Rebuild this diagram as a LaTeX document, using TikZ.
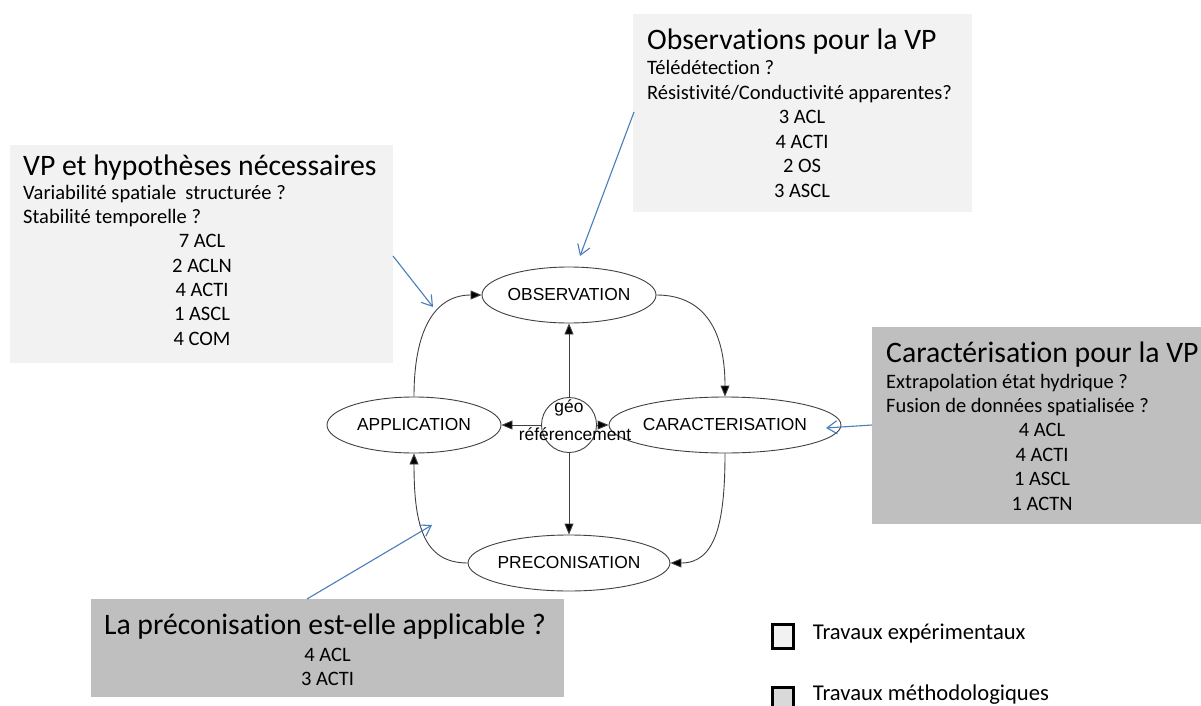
\documentclass[tikz,border=0pt]{standalone}
\usepackage{fontspec}
\setmainfont{Carlito}[Ligatures=NoCommon]
\newfontfamily\arialf{Liberation Sans}
\usetikzlibrary{arrows.meta,shapes.geometric}
\definecolor{lightbox}{HTML}{F2F2F2}
\definecolor{darkbox}{HTML}{BFBFBF}
\definecolor{legdark}{HTML}{D9D9D9}
\definecolor{calloutblue}{HTML}{4A7EBB}
\definecolor{flowgray}{HTML}{404040}
\tikzset{
  titletext/.style={font=\fontsize{29.7}{34}\selectfont, inner sep=0, anchor=base west},
  smalltext/.style={font=\fontsize{20.5}{24}\selectfont, inner sep=0, anchor=base west},
  counttext/.style={font=\fontsize{20.5}{24}\selectfont, inner sep=0, anchor=base},
  legendtext/.style={font=\fontsize{22.6}{26}\selectfont, inner sep=0, anchor=base west},
  stage/.style={ellipse, draw=flowgray, line width=0.9pt, minimum width=174pt, minimum height=56pt, inner sep=0, font=\arialf\fontsize{17.4}{20}\selectfont},
  hub/.style={circle, draw=flowgray, line width=0.9pt, minimum size=55pt, inner sep=0},
  hubtext/.style={font=\arialf\fontsize{17.4}{20}\selectfont, inner sep=0, anchor=base},
  flow/.style={draw=flowgray, line width=0.9pt, -{Triangle[length=11pt,width=9pt,fill=black]}},
  callout/.style={draw=calloutblue, line width=1.1pt, -{Straight Barb[length=10pt,width=13pt]}},
  panel/.style={inner sep=0, anchor=north west},
  legendbox/.style={draw=black, line width=3pt, minimum width=21pt, minimum height=24pt, inner sep=0},
}
\begin{document}
\begin{tikzpicture}[x=1pt,y=-1pt]
\useasboundingbox (0,0) rectangle (1201,706);

% panels
\node[panel, fill=lightbox, minimum width=383pt, minimum height=218pt] (vpbox) at (10,145) {};
\node[panel, fill=lightbox, minimum width=339pt, minimum height=198pt] (obsbox) at (633,14) {};
\node[panel, fill=darkbox, minimum width=329pt, minimum height=197pt] (carbox) at (872,327) {};
\node[panel, fill=darkbox, minimum width=473pt, minimum height=98pt] (prebox) at (91,599) {};

% VP panel text
\node[titletext] (vpt) at (23,175) {VP et hypothèses nécessaires};
\node[smalltext] (vp1) at (23,199.3) {Variabilité spatiale~ structurée ?};
\node[smalltext] (vp2) at (23,223.5) {Stabilité temporelle ?};
\node[counttext] (vp3) at (202,247.8) {7 ACL};
\node[counttext] (vp4) at (202,272.1) {2 ACLN};
\node[counttext] (vp5) at (202,296.4) {4 ACTI};
\node[counttext] (vp6) at (202,320.7) {1 ASCL};
\node[counttext] (vp7) at (202,345) {4 COM};

% Observation panel text
\node[titletext] (obt) at (647,49.3) {Observations pour la VP};
\node[smalltext] (ob1) at (647,75) {Télédétection ?};
\node[smalltext] (ob2) at (647,99.4) {Résistivité/Conductivité apparentes?};
\node[counttext] (ob3) at (802,123.8) {3 ACL};
\node[counttext] (ob4) at (802,148.2) {4 ACTI};
\node[counttext] (ob5) at (802,172.6) {2 OS};
\node[counttext] (ob6) at (802,197) {3 ASCL};

% Caracterisation panel text
\node[titletext] (cat) at (886,362.3) {Caractérisation pour la VP};
\node[smalltext] (ca1) at (886,388) {Extrapolation état hydrique ?};
\node[smalltext] (ca2) at (886,412.4) {Fusion de données spatialisée ?};
\node[counttext] (ca3) at (1042,436.8) {4 ACL};
\node[counttext] (ca4) at (1042,461.2) {4 ACTI};
\node[counttext] (ca5) at (1042,485.6) {1 ASCL};
\node[counttext] (ca6) at (1042,510) {1 ACTN};

% Preconisation panel text
\node[titletext, anchor=base] (prt) at (325,634) {La préconisation est-elle applicable ?};
\node[counttext] (pr1) at (327.5,661.7) {4 ACL};
\node[counttext] (pr2) at (327.5,685.5) {3 ACTI};

% cycle
\node[stage] (obs) at (569,295) {OBSERVATION};
\node[stage] (app) at (414,425) {APPLICATION};
\node[stage] (car) at (725,425) {CARACTERISATION};
\node[stage] (pre) at (569,563) {PRECONISATION};
\node[hub] (geo) at (569,425) {};
\node[hubtext] (geo1) at (569,412.7) {géo};
\node[hubtext] (geo2) at (575,440) {référencement};

\draw[flow] (geo.north) -- (obs.south);
\draw[flow] (geo.south) -- (pre.north);
\draw[flow] (geo.west) -- (app.east);
\draw[flow] (geo.east) -- (car.west);
\draw[flow] (app.north) .. controls +(0,-70) and +(-45,0) .. (obs.west);
\draw[flow] (obs.east) .. controls +(45,0) and +(0,-70) .. (car.north);
\draw[flow] (car.south) .. controls +(0,70) and +(45,0) .. (pre.east);
\draw[flow] (pre.west) .. controls +(-45,0) and +(0,70) .. (app.south);

% callouts
\coordinate (c1s) at (393,256);
\coordinate (c1e) at (433,307);
\coordinate (c2s) at (634,112);
\coordinate (c2e) at (580,256);
\coordinate (c3s) at (872,425);
\coordinate (c3e) at (826,428);
\coordinate (c4s) at (307,599);
\coordinate (c4e) at (432,525);
\draw[callout] (c1s) -- (c1e);
\draw[callout] (c2s) -- (c2e);
\draw[callout] (c3s) -- (c3e);
\draw[callout] (c4s) -- (c4e);

% legend
\node[legendbox, fill=lightbox] (leg1) at (782.5,636.5) {};
\node[legendtext] (leg1t) at (812.7,639.3) {Travaux expérimentaux};
\node[legendbox, fill=legdark] (leg2) at (782.5,699) {};
\node[legendtext] (leg2t) at (812.7,700) {Travaux méthodologiques};
\end{tikzpicture}
\end{document}
